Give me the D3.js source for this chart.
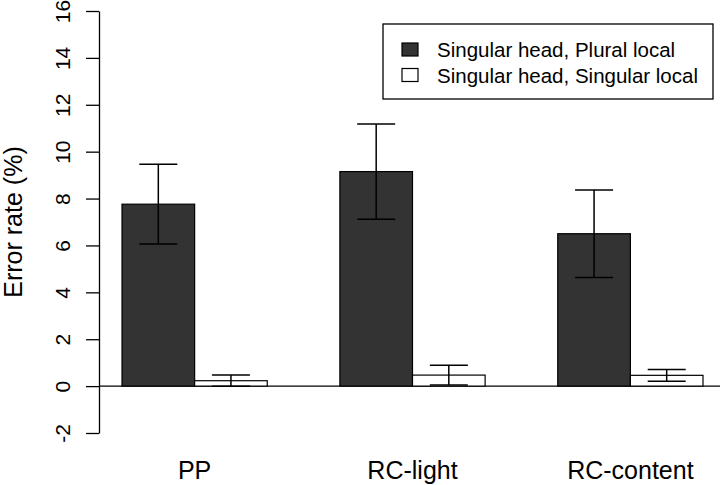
<!DOCTYPE html>
<html><head><meta charset="utf-8">
<script src="https://cdn.jsdelivr.net/npm/d3@7"></script>
<style>body{margin:0;background:#fff}svg{display:block}text{font-family:"Liberation Sans",Arial,sans-serif;fill:#000}</style>
</head><body><svg id="c" width="727" height="485"></svg>
<script>
const categories = ["PP", "RC-light", "RC-content"];
const seriesNames = ["Singular head, Plural local", "Singular head, Singular local"];
const pluralLocal = [7.76, 9.15, 6.50];
const pluralLocalSE = [1.70, 2.03, 1.87];
const singularLocal = [0.23, 0.47, 0.46];
const singularLocalSE = [0.24, 0.42, 0.25];
const yTicks = [-2, 0, 2, 4, 6, 8, 10, 12, 14, 16];
const yTickLabels = ["-2", "0", "2", "4", "6", "8", "10", "12", "14", "16"];
const seriesFill = ["#333333", "#ffffff"];

const svg = d3.select("#c");
const y = d3.scaleLinear().domain([-2, 16]).range([433, 11]);
const x = d3.scaleLinear().domain([1, 9]).range([122, 703]);

const series = [
  {vals: pluralLocal, se: pluralLocalSE},
  {vals: singularLocal, se: singularLocalSE}
];
const bars = [];
categories.forEach((c, g) => {
  series.forEach((s, k) => {
    bars.push({g, k, v: s.vals[g], se: s.se[g], u0: g * 3 + 1 + k});
  });
});

// zero line
svg.append("line").attr("x1", 99).attr("x2", 720).attr("y1", y(0)).attr("y2", y(0))
  .attr("stroke", "#000").attr("stroke-width", 1.3);

// bars
svg.selectAll("rect.bar").data(bars).enter().append("rect")
  .attr("x", d => x(d.u0)).attr("width", d => x(d.u0 + 1) - x(d.u0))
  .attr("y", d => y(Math.max(0, d.v))).attr("height", d => Math.abs(y(0) - y(d.v)))
  .attr("fill", d => seriesFill[d.k]).attr("stroke", "#000").attr("stroke-width", 1.2);

// error bars
const cap = 19;
const eb = svg.append("g").attr("stroke", "#000").attr("stroke-width", 1.5);
bars.forEach(d => {
  const cx = x(d.u0 + 0.5);
  eb.append("line").attr("x1", cx).attr("x2", cx).attr("y1", y(d.v + d.se)).attr("y2", y(d.v - d.se));
  eb.append("line").attr("x1", cx - cap).attr("x2", cx + cap).attr("y1", y(d.v + d.se)).attr("y2", y(d.v + d.se));
  eb.append("line").attr("x1", cx - cap).attr("x2", cx + cap).attr("y1", y(d.v - d.se)).attr("y2", y(d.v - d.se));
});

// y axis
const ax = svg.append("g").attr("transform", "translate(99,0)")
  .call(d3.axisLeft(y).tickValues(yTicks).tickSize(13).tickSizeOuter(0)
    .tickFormat((d, i) => yTickLabels[i]));
ax.select(".domain").attr("stroke", "#000").attr("stroke-width", 1.3);
ax.selectAll(".tick line").attr("stroke", "#000").attr("stroke-width", 1.3);
ax.selectAll(".tick text").attr("font-size", 21).attr("font-family", "Liberation Sans, Arial, sans-serif")
  .attr("x", null).attr("dy", null)
  .attr("text-anchor", "middle")
  .attr("transform", "translate(-29,0) rotate(-90)");

// y label
svg.append("text").attr("transform", "translate(22,222) rotate(-90)")
  .attr("text-anchor", "middle").attr("font-size", 25).text("Error rate (%)");

// category labels
categories.forEach((c, g) => {
  svg.append("text").attr("x", x(g * 3 + 2)).attr("y", 479).attr("text-anchor", "middle")
    .attr("font-size", 25).text(c);
});

// legend
svg.append("rect").attr("x", 383).attr("y", 24).attr("width", 330).attr("height", 75)
  .attr("fill", "#fff").attr("stroke", "#000").attr("stroke-width", 1.3);
seriesNames.forEach((n, i) => {
  const cy = 49.5 + i * 25.5;
  svg.append("rect").attr("x", 402).attr("y", cy - 6.5).attr("width", 16).attr("height", 13)
    .attr("fill", seriesFill[i]).attr("stroke", "#000").attr("stroke-width", 1.2);
  svg.append("text").attr("x", 437).attr("y", cy + 7.5).attr("font-size", 20.5).text(n);
});
</script></body></html>
